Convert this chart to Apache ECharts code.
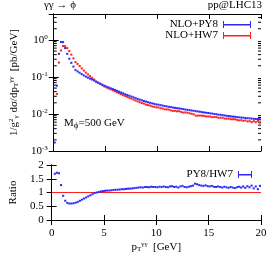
<!DOCTYPE html>
<html><head><meta charset="utf-8">
<script src="https://cdn.jsdelivr.net/npm/echarts@6/dist/echarts.min.js"></script>
<style>html,body{margin:0;padding:0;background:#fff}#c{width:270px;height:256px}</style>
</head><body><div id="c"></div>
<script>
const binWidth = 0.2;
const ptCenters = [
 0.1,0.3,0.5,0.7,0.9,1.1,1.3,1.5,1.7,1.9,
 2.1,2.3,2.5,2.7,2.9,3.1,3.3,3.5,3.7,3.9,
 4.1,4.3,4.5,4.7,4.9,5.1,5.3,5.5,5.7,5.9,
 6.1,6.3,6.5,6.7,6.9,7.1,7.3,7.5,7.7,7.9,
 8.1,8.3,8.5,8.7,8.9,9.1,9.3,9.5,9.7,9.9,
 10.1,10.3,10.5,10.7,10.9,11.1,11.3,11.5,11.7,11.9,
 12.1,12.3,12.5,12.7,12.9,13.1,13.3,13.5,13.7,13.9,
 14.1,14.3,14.5,14.7,14.9,15.1,15.3,15.5,15.7,15.9,
 16.1,16.3,16.5,16.7,16.9,17.1,17.3,17.5,17.7,17.9,
 18.1,18.3,18.5,18.7,18.9,19.1,19.3,19.5,19.7,19.9];
const py8 = [
 0.0017,0.058,0.42,0.88,0.87,0.60,0.42,0.31,0.24,0.19,
 0.153,0.141,0.130,0.119,0.110,0.102,0.096,0.090,0.085,0.080,
 0.0738,0.0695,0.0654,0.0615,0.0579,0.0547,0.0520,0.0494,0.0470,0.0447,
 0.0422,0.0400,0.0380,0.0360,0.0341,0.0325,0.0310,0.0295,0.0281,0.0267,
 0.0255,0.0244,0.0234,0.0224,0.0215,0.0207,0.0200,0.0193,0.0187,0.0181,
 0.0178,0.0173,0.0169,0.0164,0.0160,0.0156,0.0153,0.0149,0.0146,0.0143,
 0.0141,0.0138,0.0135,0.0132,0.0129,0.0127,0.0124,0.0122,0.0119,0.0117,
 0.0115,0.0112,0.0110,0.0108,0.0106,0.0104,0.0102,0.0100,0.0098,0.0096,
 0.0095,0.0093,0.0091,0.0089,0.0088,0.0086,0.0085,0.0084,0.0082,0.0081,
 0.0080,0.0079,0.0078,0.0077,0.0076,0.0075,0.0074,0.0073,0.0073,0.0072];
const hw7 = [
 null,0.0345,0.244,0.518,0.685,0.68,0.60,0.50,0.40,0.317,
 0.251,0.224,0.197,0.170,0.149,0.131,0.117,0.105,0.0944,0.0851,
 0.0753,0.0695,0.0641,0.0591,0.0551,0.0516,0.0486,0.0462,0.0435,0.0410,
 0.0384,0.0364,0.0342,0.0321,0.0304,0.0288,0.0272,0.0259,0.0244,0.0230,
 0.0218,0.0207,0.0197,0.0190,0.0179,0.0173,0.0168,0.0160,0.0156,0.0151,
 0.0150,0.0143,0.0141,0.0134,0.0133,0.0131,0.0125,0.0121,0.0122,0.0118,
 0.0119,0.0113,0.0109,0.0110,0.0108,0.0105,0.0101,0.0098,0.0090,0.0090,
 0.0091,0.0090,0.0089,0.0086,0.0086,0.0085,0.0082,0.0083,0.0082,0.0079,
 0.0079,0.0079,0.0075,0.0075,0.0075,0.0072,0.0072,0.0072,0.0069,0.0067,
 0.0068,0.0065,0.0067,0.0063,0.0064,0.0060,0.0064,0.0060,0.0065,0.0058];
const ratio = [
 null,1.68,1.72,1.70,1.27,0.88,0.70,0.62,0.60,0.60,
 0.61,0.63,0.66,0.70,0.74,0.78,0.82,0.86,0.90,0.94,
 0.98,1.00,1.02,1.04,1.05,1.06,1.07,1.07,1.08,1.09,
 1.10,1.10,1.11,1.12,1.12,1.13,1.14,1.14,1.15,1.16,
 1.17,1.18,1.19,1.18,1.20,1.20,1.19,1.21,1.20,1.20,
 1.19,1.21,1.20,1.22,1.20,1.19,1.22,1.23,1.20,1.21,
 1.18,1.22,1.24,1.20,1.19,1.21,1.23,1.25,1.32,1.30,
 1.27,1.25,1.24,1.26,1.23,1.22,1.24,1.21,1.20,1.22,
 1.20,1.18,1.21,1.19,1.17,1.20,1.18,1.16,1.19,1.21,
 1.18,1.22,1.17,1.23,1.19,1.25,1.15,1.22,1.12,1.24];
const xTicks = [0,5,10,15,20];
const ratioTicks = [0,0.5,1,1.5,2];

const FONT = 'Liberation Serif';
const BLUE = '#2a2aff', RED = '#ff2020';
const L = 43, R = 9;

function pairs(ys){ return ptCenters.map((x,i)=>[x, ys[i]==null?NaN:ys[i]]); }
function binItem(params, api){
  const x = api.value(0), y = api.value(1);
  if (isNaN(y)) return null;
  const p1 = api.coord([x - binWidth/2, y]), p2 = api.coord([x + binWidth/2, y]);
  return {type:'line', shape:{x1:p1[0],y1:p1[1],x2:p2[0],y2:p2[1]},
          style:{stroke: api.visual('color'), lineWidth: 2}};
}
const minorVals = [];
[0.001,0.01,0.1,1].forEach(d=>{ for(let k=2;k<=9;k++){ if(d*k<5) minorVals.push(d*k); } });
function minorItem(params, api){
  const v = api.value(0);
  const a = api.coord([0, v]), b = api.coord([20, v]);
  return {type:'group', children:[
    {type:'line', shape:{x1:a[0],y1:a[1],x2:a[0]+3,y2:a[1]}, style:{stroke:'#000',lineWidth:1}},
    {type:'line', shape:{x1:b[0],y1:b[1],x2:b[0]-3,y2:b[1]}, style:{stroke:'#000',lineWidth:1}}
  ]};
}
const txt = {fontFamily: FONT, fontSize: 11, color:'#000', fontWeight:'normal'};
const rich = {
  b:{fontFamily:FONT,fontSize:11,color:'#000',fontWeight:'normal'},
  s:{fontFamily:FONT,fontSize:7,color:'#000',fontWeight:'normal',verticalAlign:'top',padding:[0,0,5,0]},
  d:{fontFamily:FONT,fontSize:7,color:'#000',fontWeight:'normal',padding:[5,0,0,0]},
  p:{fontFamily:FONT,fontSize:9,color:'#000',fontWeight:'normal',padding:[5,0,0,0]}
};
const lineAx = {lineStyle:{color:'#000',width:1}};
function xAx(grid, pos, labels){
  return {gridIndex:grid, type:'value', min:0, max:20, interval:5, position:pos,
    axisLine:lineAx, axisTick:{inside:true,length:5,lineStyle:{color:'#000'}},
    splitLine:{show:false},
    axisLabel:{show:labels, margin:8, ...txt, showMinLabel:true, showMaxLabel:true},
    ...(labels?{name:'{b|p}{d|T}{s|γγ}{b|  [GeV]}', nameLocation:'middle', nameGap:21,
      nameTextStyle:{rich}}:{})};
}
const option = {
  animation:false,
  backgroundColor:'#fff',
  grid:[{left:L, right:R, top:14, height:137},{left:L, right:R, top:165, height:55}],
  title:[
    {text:'γγ → ϕ', left:44, top:0, padding:0, textStyle:{...txt}},
    {text:'pp@LHC13', right:8, top:0, padding:0, textStyle:{...txt}},
    {text:'{b|M}{p|ϕ}{b|=500 GeV}', left:64, top:116, padding:0, textStyle:{...txt, rich}}
  ],
  legend:[
    {data:['NLO+PY8','NLO+HW7'], orient:'vertical', right:19, top:19, padding:0, itemGap:0,
     align:'right', itemWidth:28, itemHeight:7, selectedMode:false,
     icon:'path://M0,3H28V4.5H0Z M0,0H1V7H0Z M27,0H28V7H27Z',
     textStyle:{...txt, lineHeight:10}},
    {data:['PY8/HW7'], orient:'vertical', right:18, top:169, padding:0, align:'right',
     itemWidth:14, itemHeight:7, selectedMode:false,
     icon:'path://M0,3H14V4.5H0Z M0,0H1V7H0Z M13,0H14V7H13Z',
     textStyle:{...txt, lineHeight:10}}
  ],
  xAxis:[xAx(0,'bottom',false), xAx(0,'top',false), xAx(1,'bottom',true), xAx(1,'top',false)],
  yAxis:[
    {gridIndex:0, type:'log', logBase:10, min:0.001, max:5, position:'left',
     axisLine:lineAx, axisTick:{inside:true,length:5,lineStyle:{color:'#000'}}, splitLine:{show:false},
     axisLabel:{margin:6, formatter:v=>{const l=Math.log10(v), e=Math.round(l);
        if(Math.abs(l-e)>1e-6) return ''; return '{b|10}{s|'+(e===0?'0':e)+'}';}, rich},
     name:'{b|1/g}{s|2}{d|γ}{b| dσ/dp}{d|T}{s|γγ}{b|  [pb/GeV]}', nameLocation:'middle', nameGap:27,
     nameTextStyle:{rich}},
    {gridIndex:0, type:'log', logBase:10, min:0.001, max:5, position:'right',
     axisLine:lineAx, axisTick:{inside:true,length:5,lineStyle:{color:'#000'}}, splitLine:{show:false},
     axisLabel:{show:false}},
    {gridIndex:1, type:'value', min:0, max:2, interval:0.5, position:'left',
     axisLine:lineAx, axisTick:{inside:true,length:5,lineStyle:{color:'#000'}}, splitLine:{show:false},
     axisLabel:{margin:8, ...txt, formatter:v=>String(v)},
     name:'Ratio', nameLocation:'middle', nameGap:24, nameTextStyle:{...txt}},
    {gridIndex:1, type:'value', min:0, max:2, interval:0.5, position:'right',
     axisLine:lineAx, axisTick:{inside:true,length:5,lineStyle:{color:'#000'}}, splitLine:{show:false},
     axisLabel:{show:false}}
  ],
  series:[
    {type:'custom', name:'minor', xAxisIndex:0, yAxisIndex:0, data:minorVals.map(v=>[v]),
     encode:{y:0}, renderItem:minorItem, silent:true},
    {type:'custom', name:'NLO+HW7', xAxisIndex:0, yAxisIndex:0, data:pairs(hw7), renderItem:binItem,
     itemStyle:{color:RED}, clip:true, z:3},
    {type:'custom', name:'NLO+PY8', xAxisIndex:0, yAxisIndex:0, data:pairs(py8), renderItem:binItem,
     itemStyle:{color:BLUE}, clip:true, z:4},
    {type:'custom', name:'PY8/HW7', xAxisIndex:2, yAxisIndex:2, data:pairs(ratio), renderItem:binItem,
     itemStyle:{color:BLUE}, clip:true, z:4,
     markLine:{silent:true, symbol:'none', label:{show:false}, lineStyle:{color:RED,type:'solid',width:1.2},
       data:[{yAxis:1}], z:2}}
  ]
};
const chart = echarts.init(document.getElementById('c'), null, {renderer:'canvas'});
chart.setOption(option);
</script></body></html>
